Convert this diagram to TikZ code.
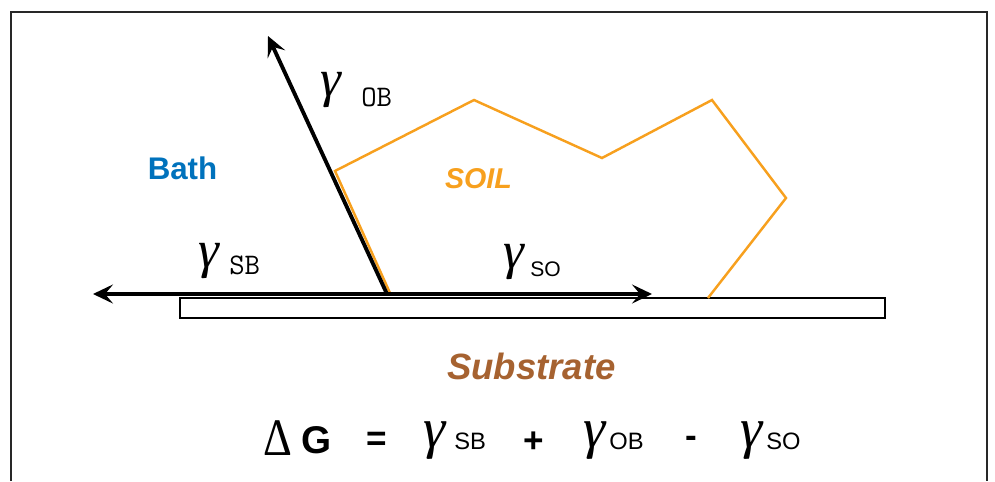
\documentclass[tikz,border=0pt]{standalone}
\usepackage{fontspec}
\setmainfont{Liberation Sans}
\newfontfamily\greekfont{Liberation Serif}
\usetikzlibrary{arrows.meta}

\definecolor{bathblue}{RGB}{0,114,188}
\definecolor{soilorange}{RGB}{247,160,30}
\definecolor{substratebrown}{RGB}{166,98,48}
\definecolor{framegray}{RGB}{40,40,40}

\begin{document}
\begin{tikzpicture}[x=0.02cm, y=-0.02cm,
  force/.style={line width=2.2pt, -{Stealth[length=4mm, width=3.8mm, inset=1.6mm]}},
  gam/.style={inner sep=0pt, font=\greekfont\itshape\fontsize{#1}{#1}\selectfont},
  ttsub/.style={inner sep=0pt, anchor=base west, font=\ttfamily\fontsize{17}{17}\selectfont},
  sfsub/.style={inner sep=0pt, anchor=base west, font=\fontsize{#1}{#1}\selectfont},
  region/.style={inner sep=0pt, font=\bfseries\fontsize{#1}{#1}\selectfont},
  eqsign/.style={inner sep=0pt, font=\bfseries\fontsize{20}{20}\selectfont}]

  \useasboundingbox (0,0) rectangle (995,481);

  % frame (open at the bottom)
  \draw[framegray, line width=1.4pt] (11,481) -- (11,12) -- (987,12) -- (987,481);

  % substrate plate
  \node (plate) [draw, line width=1.1pt, minimum width=14.1cm, minimum height=0.4cm,
                 inner sep=0pt] at (532.5,308) {};

  % soil outline
  \draw[soilorange, line width=1.4pt, line join=miter]
    (390,293) -- (335,171) -- (474,100) -- (602,158) -- (712,100) -- (786,198) -- (708,298);

  % surface tension vectors
  \coordinate (contact) at (387,294);
  \coordinate (obtip) at (268,36);
  \coordinate (sbtip) at (93,294);
  \coordinate (sotip) at (652,294);
  \draw[force] (contact) -- (obtip);
  \draw[force] (contact) -- (sbtip);
  \draw[force] (contact) -- (sotip);

  \node (gob) [gam=30] at (330.5,90.5) {γ};
  \node (gobsub) [ttsub] at (361,106) {OB};
  \node (gsb) [gam=30] at (208.5,261.5) {γ};
  \node (gsbsub) [ttsub] at (229,274) {SB};
  \node (gso) [gam=30] at (513.5,262.5) {γ};
  \node (gsosub) [sfsub=12] at (530,276) {SO};

  % regions
  \node (bath) [region=17.8, text=bathblue] at (182.5,168) {Bath};
  \node (soil) [region=16.3, text=soilorange] at (478.5,179) {\itshape SOIL};
  \node (substrate) [region=20.8, text=substratebrown] at (531.5,366) {\itshape Substrate};

  % energy balance
  \node (delta) [inner sep=0pt] at (278,438)
    {\scalebox{0.85}[1]{\greekfont\fontsize{30}{30}\selectfont Δ}};
  \node (dg) [eqsign, font=\bfseries\fontsize{22}{22}\selectfont] at (317,440) {G};
  \node (eq) [eqsign] at (377,441) {=};
  \node (eqsb) [gam=32] at (435,441) {γ};
  \node (eqsbsub) [sfsub=13.5] at (454,449) {SB};
  \node (plus) [eqsign] at (534,442) {+};
  \node (eqob) [gam=32] at (595,441) {γ};
  \node (eqobsub) [sfsub=13.5] at (609,449) {OB};
  \node (minus) [eqsign] at (691,442) {-};
  \node (eqso) [gam=32] at (752,441) {γ};
  \node (eqsosub) [sfsub=13.5] at (766,449) {SO};
\end{tikzpicture}
\end{document}
